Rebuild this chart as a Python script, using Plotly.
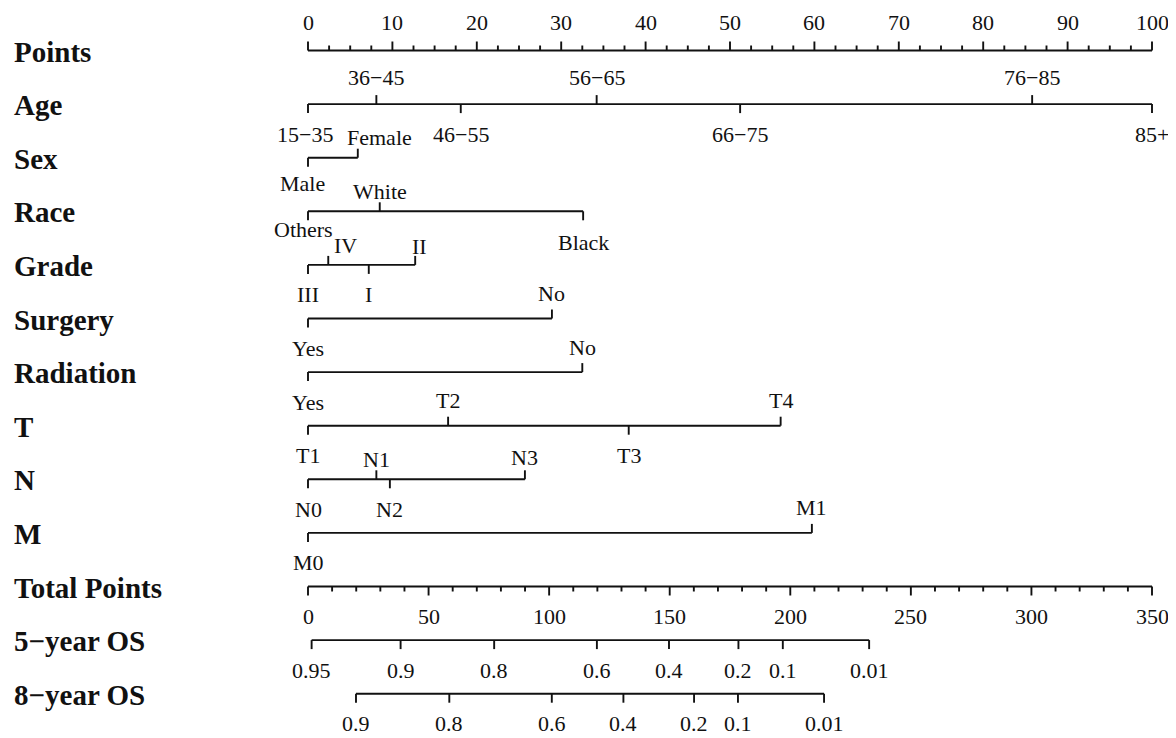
import plotly.graph_objects as go

# ---------------- data ----------------
row_names = ["Points", "Age", "Sex", "Race", "Grade", "Surgery", "Radiation",
             "T", "N", "M", "Total Points", "5−year OS", "8−year OS"]

points_ticks = list(range(0, 101, 10))
points_minor = [v / 2 for v in range(0, 201, 5)]   # every 2.5 points

age_levels = ["15−35", "36−45", "46−55", "56−65", "66−75", "76−85", "85+"]
age_points = [0, 8.1, 18.1, 34.2, 51.2, 85.8, 100]
sex_levels = ["Male", "Female"]
sex_points = [0, 5.9]
race_levels = ["Others", "White", "Black"]
race_points = [0, 8.5, 32.6]
grade_levels = ["III", "IV", "I", "II"]
grade_points = [0, 2.4, 7.2, 12.7]
surgery_levels = ["Yes", "No"]
surgery_points = [0, 28.9]
radiation_levels = ["Yes", "No"]
radiation_points = [0, 32.5]
t_levels = ["T1", "T2", "T3", "T4"]
t_points = [0, 16.6, 38.0, 56.0]
n_levels = ["N0", "N1", "N2", "N3"]
n_points = [0, 8.1, 9.7, 25.7]
m_levels = ["M0", "M1"]
m_points = [0, 59.7]

total_ticks = list(range(0, 351, 50))
total_minor = list(range(0, 351, 10))

os5_labels = ["0.95", "0.9", "0.8", "0.6", "0.4", "0.2", "0.1", "0.01"]
os5_total = [1.5, 38.4, 77.2, 119.8, 149.7, 178.5, 196.9, 232.7]
os8_labels = ["0.9", "0.8", "0.6", "0.4", "0.2", "0.1", "0.01"]
os8_total = [19.9, 58.6, 101.1, 130.8, 160.1, 178.3, 214.0]

# ---------------- layout / style ----------------
OFF = 8                          # page body margin of the html page
W, H = 1176 - OFF, 738 - OFF
PX0, PX1 = 308 - OFF, 1152 - OFF  # pixel positions of 0 and 100 points
scale = (PX1 - PX0) / 100.0
x0 = -PX0 / scale
x1 = x0 + W / scale
TOTAL_MAX = 350
k = TOTAL_MAX / 100.0

ROW0, ROWSTEP = 50.5 - OFF, 53.6
def row_y(i):
    return ROW0 + ROWSTEP * i

TICK_MAJ, TICK_MIN = 9, 5
LINE_W = 1.9
COL = "#111111"
SERIF = "Liberation Serif"
TICK_FONT = dict(family=SERIF, size=22, color=COL)
ABOVE, BELOW = -25, 30

# per-label style tweaks (label text -> (xshift px, dy px)) per row
tweaks = {
    "Sex": {"Female": (22, -20), "Male": (-6, 26)},
    "Race": {"White": (0, -20), "Others": (-5, 18), "Black": (0, 31)},
    "Grade": {"IV": (17, -19), "II": (4, -18)},
    "N": {"N1": (0, -20), "N3": (0, -22)},
    "Age": {"36−45": (0, -27), "56−65": (0, -27), "76−85": (0, -27),
            "15−35": (-3, 30)},
}

fig = go.Figure()
annotations = []

def add_lines(xs, ys, axis="x"):
    fig.add_trace(go.Scatter(x=xs, y=ys, mode="lines", xaxis=axis, yaxis="y",
                             line=dict(color=COL, width=LINE_W),
                             hoverinfo="skip", showlegend=False))

def add_text(txt, x, y, axis="x", xshift=0):
    annotations.append(dict(text=txt, x=x, y=y, xref=axis, yref="y",
                            xanchor="center", yanchor="middle", showarrow=False,
                            xshift=xshift, font=TICK_FONT))

# Points scale
y = row_y(0)
xs, ys = [0, 100, None], [y, y, None]
for v in points_minor:
    L = TICK_MAJ if v % 10 == 0 else TICK_MIN
    xs += [v, v, None]
    ys += [y, y - L, None]
add_lines(xs, ys)
for v in points_ticks:
    add_text(str(v), v, y - 28.5)

# Categorical variables
variables = [
    ("Age", age_levels, age_points),
    ("Sex", sex_levels, sex_points),
    ("Race", race_levels, race_points),
    ("Grade", grade_levels, grade_points),
    ("Surgery", surgery_levels, surgery_points),
    ("Radiation", radiation_levels, radiation_points),
    ("T", t_levels, t_points),
    ("N", n_levels, n_points),
    ("M", m_levels, m_points),
]
for i, (name, levels, pts) in enumerate(variables, start=1):
    y = row_y(i)
    order = sorted(range(len(pts)), key=lambda j: pts[j])
    xs, ys = [min(pts), max(pts), None], [y, y, None]
    for rank, j in enumerate(order):
        up = rank % 2 == 1
        xs += [pts[j], pts[j], None]
        ys += [y, y - TICK_MAJ if up else y + TICK_MAJ, None]
        dx, dy = tweaks.get(name, {}).get(levels[j], (0, ABOVE if up else BELOW))
        add_text(levels[j], pts[j], y + dy, xshift=dx)
    add_lines(xs, ys)

# Total points scale (secondary x axis in total-point units)
y = row_y(10)
xs, ys = [0, TOTAL_MAX, None], [y, y, None]
for v in total_minor:
    L = TICK_MAJ if v % 50 == 0 else TICK_MIN
    xs += [v, v, None]
    ys += [y, y + L, None]
add_lines(xs, ys, axis="x2")
for v in total_ticks:
    add_text(str(v), v, y + BELOW, axis="x2")

# Survival scales
for i, labels, tot in [(11, os5_labels, os5_total), (12, os8_labels, os8_total)]:
    y = row_y(i)
    xs, ys = [min(tot), max(tot), None], [y, y, None]
    for v in tot:
        xs += [v, v, None]
        ys += [y, y + TICK_MAJ, None]
    add_lines(xs, ys, axis="x2")
    for lab, v in zip(labels, tot):
        add_text(lab, v, y + BELOW, axis="x2")

# Row names
for i, name in enumerate(row_names):
    annotations.append(dict(text=name, x=(12 - OFF) / W, y=row_y(i) + 1, xref="paper", yref="y",
                            xanchor="left", yanchor="middle", showarrow=False,
                            font=dict(family=SERIF, size=29, color=COL, weight="bold")))

fig.update_layout(
    width=W, height=H,
    margin=dict(l=0, r=0, t=0, b=0),
    paper_bgcolor="white", plot_bgcolor="white",
    xaxis=dict(range=[x0, x1], visible=False, fixedrange=True),
    xaxis2=dict(range=[x0 * k, x1 * k], visible=False, overlaying="x", fixedrange=True),
    yaxis=dict(range=[H, 0], visible=False, fixedrange=True),
    annotations=annotations,
    showlegend=False,
)

fig.write_html("out.html")
